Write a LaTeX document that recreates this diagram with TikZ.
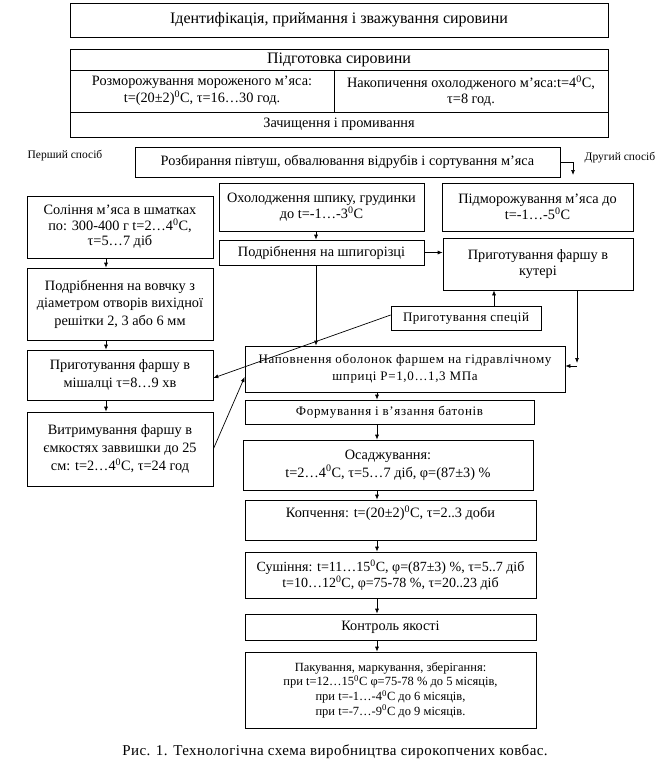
\documentclass[tikz,border=0pt]{standalone}
\usepackage{fontspec}
\setmainfont{Liberation Serif}
\usetikzlibrary{arrows.meta}
\newcommand{\gr}{\textsuperscript{0}}
\tikzset{
  blok/.style={draw, line width=0.7pt, align=center, inner sep=1pt,
    font=\fontsize{14.3}{16.5}\selectfont},
  zaholovok/.style={blok, font=\fontsize{16}{18}\selectfont},
  dribno/.style={blok, font=\fontsize{13}{17}\selectfont\addfontfeature{LetterSpace=5}},
  sposib/.style={font=\fontsize{11.5}{13}\selectfont, inner sep=0pt},
  strilka/.style={-{Latex[length=5pt,width=4pt]}, line width=0.7pt},
  lin/.style={line width=0.7pt}
}
\begin{document}
\begin{tikzpicture}[x=1pt, y=-1pt]
    \useasboundingbox (0,0) rectangle (662,784);

    \node[zaholovok, minimum width=538pt, minimum height=34pt] (ident) at (339,20)
        {Ідентифікація, приймання і зважування сировини};

    \node[zaholovok, minimum width=538pt, minimum height=21pt] (pidg) at (339,59.5)
        {Підготовка сировини};
    \node[blok, minimum width=264pt, minimum height=42pt] (rozmor) at (202,91)
        {Розморожування мороженого м’яса:\\ t=(20±2)\gr C, τ=16…30 год.};
    \node[blok, minimum width=274pt, minimum height=42pt] (nakop) at (471,91)
        {Накопичення охолодженого м’яса:t=4\gr C,\\ τ=8 год.};
    \node[blok, minimum width=538pt, minimum height=25pt] (zach) at (339,124.5)
        {Зачищення і промивання};

    \node[sposib] (pershyi) at (65,156) {Перший спосіб};
    \node[blok, minimum width=425pt, minimum height=30pt] (rozbyr) at (347.5,162)
        {Розбирання півтуш, обвалювання відрубів і сортування м’яса};
    \node[sposib] (druhyi) at (620,158) {Другий спосіб};
    \coordinate (druh) at (573,175);

    \node[blok, minimum width=205pt, minimum height=48pt] (okhol) at (321.5,207)
        {Охолодження шпику, грудинки\\ до t=-1…-3\gr C};
    \node[blok, minimum width=191pt, minimum height=48pt] (pidmor) at (537.5,207)
        {Підморожування м’яса до\\ t=-1…-5\gr C};
    \node[blok, minimum width=186pt, minimum height=62pt, font=\fontsize{14.3}{15.5}\selectfont] (solin) at (120,227)
        {Соління м’яса в шматках\\ по: 300-400 г t=2…4\gr C,\\ τ=5…7 діб};
    \node[blok, minimum width=205pt, minimum height=25pt] (shpyh) at (321.5,252.5)
        {Подрібнення на шпигорізці};
    \node[blok, minimum width=190pt, minimum height=52pt] (kuter) at (538,264)
        {Приготування фаршу в\\ кутері};
    \node[blok, minimum width=186pt, minimum height=72pt, font=\fontsize{14.3}{17.5}\selectfont] (vovchok) at (120,304)
        {Подрібнення на вовчку з\\ діаметром отворів вихідної\\ решітки 2, 3 або 6 мм};
    \node[dribno, minimum width=150pt, minimum height=24pt,
          font=\fontsize{13}{15}\selectfont\addfontfeature{LetterSpace=4}] (spetsii) at (466,318)
        {Приготування спецій};
    \node[blok, minimum width=186pt, minimum height=50pt, font=\fontsize{14.3}{18}\selectfont] (mishalka) at (120,375)
        {Приготування фаршу в\\ мішалці τ=8…9 хв};
    \node[blok, minimum width=186pt, minimum height=74pt, font=\fontsize{14.3}{18}\selectfont] (vytrym) at (120,449)
        {Витримування фаршу в\\ ємкостях заввишки до 25\\ см: t=2…4\gr C, τ=24 год};

    \node[dribno, minimum width=320pt, minimum height=46pt] (napovn) at (405,369)
        {Наповнення оболонок фаршем на гідравлічному\\ шприці P=1,0…1,3 МПа};
    \node[dribno, minimum width=289pt, minimum height=24pt] (form) at (389.5,412)
        {Формування і в’язання батонів};
    \node[blok, minimum width=290pt, minimum height=50pt, font=\fontsize{14.3}{18}\selectfont] (osadzh) at (388,465)
        {Осаджування:\\ t=2…4\gr C, τ=5…7 діб, φ=(87±3) \%};
    \node[blok, minimum width=291pt, minimum height=40pt] (kopch) at (390.5,520)
        {Копчення: t=(20±2)\gr C, τ=2..3 доби\\ \mbox{}};
    \node[blok, minimum width=291pt, minimum height=46pt, font=\fontsize{14}{16}\selectfont] (sush) at (390.5,575)
        {Сушіння: t=11…15\gr C, φ=(87±3) \%, τ=5..7 діб\\ t=10…12\gr C, φ=75-78 \%, τ=20..23 діб};
    \node[blok, minimum width=291pt, minimum height=26pt] (kontrol) at (390.5,627)
        {Контроль якості};
    \node[blok, minimum width=291pt, minimum height=76pt, font=\fontsize{12.5}{14.7}\selectfont] (pakuv) at (390.5,690)
        {Пакування, маркування, зберігання:\\ при t=12…15\gr C φ=75-78 \% до 5 місяців,\\
         при t=-1…-4\gr C до 6 місяців,\\ при t=-7…-9\gr C до 9 місяців.};

    \node[font=\fontsize{15}{17}\selectfont\addfontfeature{LetterSpace=3}, inner sep=0pt] (pidpys) at (335,752)
        {Рис. 1. Технологічна схема виробництва сирокопчених ковбас.};

    % колонки для стрілок
    \coordinate (colL) at (106,0);
    \coordinate (colS) at (316,0);
    \coordinate (colSp) at (494,0);
    \coordinate (colK) at (577,0);
    \coordinate (colC) at (377,0);

    \draw[strilka] (rozbyr.east) -| (druh);
    \draw[strilka] (colS |- okhol.south) -- (colS |- shpyh.north);
    \draw[strilka] (shpyh.east) -- (kuter.west |- shpyh.east);
    \draw[strilka] (colS |- shpyh.south) -- (colS |- napovn.north);
    \draw[strilka] (colL |- solin.south) -- (colL |- vovchok.north);
    \draw[strilka] (colL |- vovchok.south) -- (colL |- mishalka.north);
    \draw[strilka] (colL |- mishalka.south) -- (colL |- vytrym.north);
    \draw[strilka] (colSp |- spetsii.north) -- (colSp |- kuter.south);
    \draw[strilka] ([yshift=3pt]spetsii.west) -- ([yshift=-3pt]mishalka.east);
    \draw[strilka] (colK |- kuter.south) -- ([yshift=6pt]colK |- napovn.east);
    \draw[strilka] ([yshift=3pt]colK |- napovn.east) -- ([yshift=3pt]napovn.east);
    \draw[strilka] (vytrym.east) -- ([yshift=-8pt]napovn.west);
    \draw[strilka] (colC |- napovn.south) -- (colC |- form.north);
    \draw[strilka] (colC |- form.south) -- (colC |- osadzh.north);
    \draw[strilka] (colC |- osadzh.south) -- (colC |- kopch.north);
    \draw[strilka] (colC |- kopch.south) -- (colC |- sush.north);
    \draw[strilka] (colC |- sush.south) -- (colC |- kontrol.north);
    \draw[strilka] (colC |- kontrol.south) -- (colC |- pakuv.north);
\end{tikzpicture}
\end{document}
